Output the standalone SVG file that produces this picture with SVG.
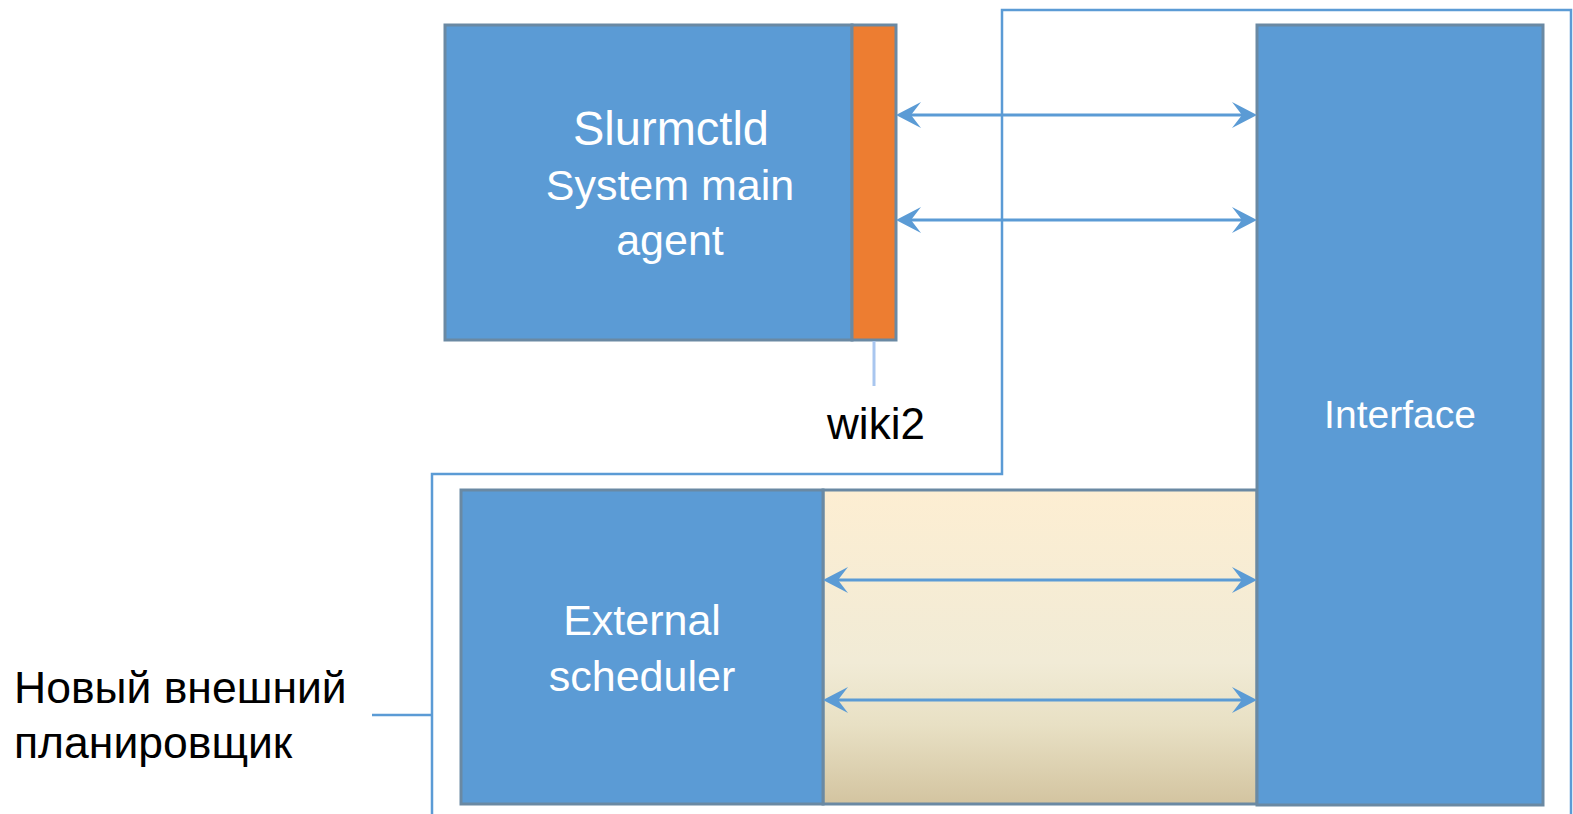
<svg xmlns="http://www.w3.org/2000/svg" width="1573" height="814" viewBox="0 0 1573 814">
  <style>
    .box { fill: #5b9bd5; stroke: #6a89a3; stroke-width: 3; }
    .orange { fill: #ed7d31; stroke: #6a89a3; stroke-width: 3; }
    .wt { font-family: "Liberation Sans", Arial, sans-serif; fill: #ffffff; text-anchor: middle; }
    .bt { font-family: "Liberation Sans", Arial, sans-serif; fill: #000000; }
    .arrow { stroke: #5b9bd5; stroke-width: 3; fill: none; marker-start: url(#head); marker-end: url(#head); }
    .outline { stroke: #5b9bd5; stroke-width: 2.5; fill: none; }
  </style>
  <defs>
    <linearGradient id="beige" x1="0" y1="0" x2="0" y2="1">
      <stop offset="0" stop-color="#fdeed2"/>
      <stop offset="0.55" stop-color="#f1ebd6"/>
      <stop offset="0.75" stop-color="#e8e0c4"/>
      <stop offset="1" stop-color="#d3c4a0"/>
    </linearGradient>
    <marker id="head" markerUnits="userSpaceOnUse" viewBox="-26 -14 27 28" markerWidth="27" markerHeight="28" refX="-15" refY="0" orient="auto-start-reverse">
      <path d="M0,0 L-25,-13 L-15,0 L-25,13 Z" fill="#5b9bd5"/>
    </marker>
  </defs>

  <g id="outline-group">
    <path class="outline" d="M432,814 V474 H1002 V10 H1571 V814"/>
    <path class="outline" d="M372,715 H432"/>
  </g>

  <g id="slurmctld">
    <rect class="box" x="445" y="25" width="407" height="315"/>
    <text class="wt" x="671" y="145" font-size="48" textLength="196" lengthAdjust="spacingAndGlyphs">Slurmctld</text>
    <text class="wt" x="670" y="200" font-size="43">System main</text>
    <text class="wt" x="670" y="255" font-size="43">agent</text>
  </g>

  <g id="wiki2">
    <rect class="orange" x="852" y="25" width="44" height="315"/>
    <line x1="874" y1="341" x2="874" y2="386" stroke="#a9c6ef" stroke-width="3"/>
    <text class="bt" x="876" y="439" font-size="44" text-anchor="middle">wiki2</text>
  </g>

  <g id="protocol-area">
    <rect x="823" y="490" width="434" height="314" fill="url(#beige)" stroke="#6a89a3" stroke-width="3"/>
  </g>

  <g id="external-scheduler">
    <rect class="box" x="461" y="490" width="362" height="314"/>
    <text class="wt" x="642" y="635" font-size="43">External</text>
    <text class="wt" x="642" y="691" font-size="43">scheduler</text>
  </g>

  <g id="interface">
    <rect class="box" x="1257" y="25" width="286" height="780"/>
    <text class="wt" x="1400" y="428" font-size="39">Interface</text>
  </g>

  <g id="new-scheduler-label">
    <text class="bt" x="14" y="703" font-size="44.5">Новый внешний</text>
    <text class="bt" x="14" y="758" font-size="44.5">планировщик</text>
  </g>

  <g id="connectors">
    <line class="arrow" x1="911" y1="115" x2="1242" y2="115"/>
    <line class="arrow" x1="911" y1="220" x2="1242" y2="220"/>
    <line class="arrow" x1="838" y1="580" x2="1242" y2="580"/>
    <line class="arrow" x1="838" y1="700" x2="1242" y2="700"/>
  </g>
</svg>
